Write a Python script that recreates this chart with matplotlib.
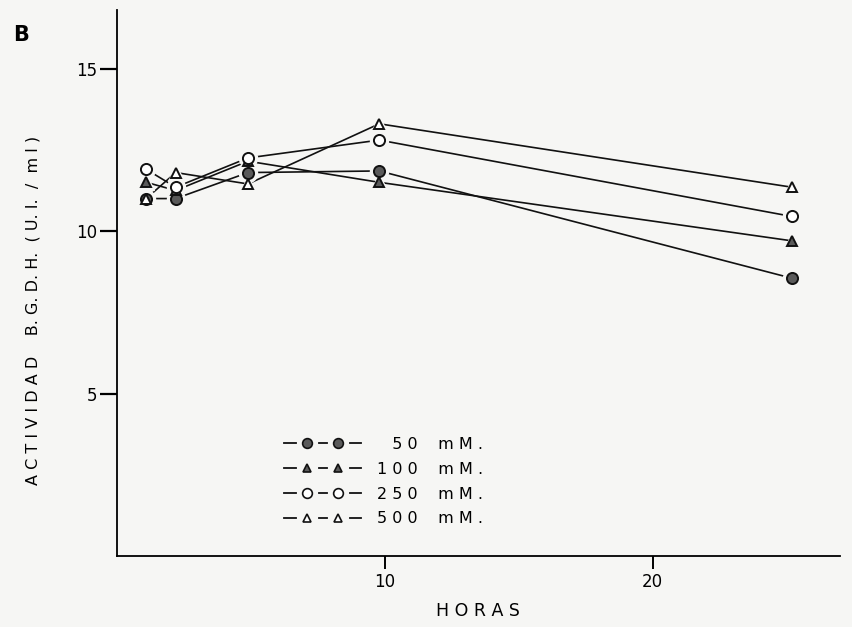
import numpy as np
import matplotlib
matplotlib.use('Agg')
import matplotlib.pyplot as plt
from matplotlib.lines import Line2D
from matplotlib.legend_handler import HandlerLine2D

# values
horas = [1.1, 2.2, 4.9, 9.8, 25.2]
c50 = [11.0, 11.0, 11.8, 11.85, 8.55]
c100 = [11.5, 11.25, 12.15, 11.5, 9.7]
c250 = [11.9, 11.35, 12.25, 12.8, 10.45]
c500 = [11.0, 11.8, 11.45, 13.3, 11.35]
labels = ['\u2007 5 0    m M .', '1 0 0    m M .', '2 5 0    m M .', '5 0 0    m M .']

bg = '#f6f6f4'
grey = '#5a5a5a'


class DashMarkHandler(HandlerLine2D):
    # legend key drawn as  - o - o -  (three dashes, two markers)
    def create_artists(self, legend, orig_handle, xdescent, ydescent,
                       width, height, fontsize, trans):
        x0, x1 = -xdescent, width - xdescent
        w = x1 - x0
        y = (height - ydescent) / 2
        xm = [x0 + 0.3 * w, x0 + 0.7 * w]
        g = 0.15 * w
        arts = []
        for a, b in [(x0, xm[0] - g), (xm[0] + g, xm[1] - g), (xm[1] + g, x1)]:
            seg = Line2D([a, b], [y, y])
            self.update_prop(seg, orig_handle, legend)
            seg.set_marker('None')
            seg.set_linestyle('-')
            seg.set_transform(trans)
            arts.append(seg)
        mk = Line2D(xm, [y, y])
        self.update_prop(mk, orig_handle, legend)
        mk.set_linestyle('None')
        mk.set_transform(trans)
        arts.append(mk)
        return arts


fig = plt.figure(figsize=(8.52, 6.27), dpi=100, facecolor=bg)
ax = fig.add_axes([0.137, 0.113, 0.849, 0.871], facecolor=bg)

series = [
    (c50, 'o', grey, 8),
    (c100, '^', grey, 7),
    (c250, 'o', 'white', 8),
    (c500, '^', 'white', 7),
]

# lines first, then a halo so lines stop short of the markers
for vals, m, fc, ms in series:
    ax.plot(horas, vals, '-', color='#111111', lw=1.2, zorder=1)
for vals, m, fc, ms in series:
    ax.plot(horas, vals, linestyle='none', marker=m, ms=ms + 5,
            mfc=bg, mec=bg, zorder=2)
for vals, m, fc, ms in series:
    ax.plot(horas, vals, linestyle='none', marker=m, ms=ms,
            mfc=fc, mec='#111111', mew=1.4, zorder=3)

ax.set_xlim(0, 27)
ax.set_ylim(0, 16.8)
ax.spines['top'].set_visible(False)
ax.spines['right'].set_visible(False)
ax.spines['left'].set_linewidth(1.3)
ax.spines['bottom'].set_linewidth(1.3)
ax.set_xticks([10, 20])
ax.set_yticks([5, 10, 15])
ax.tick_params(axis='y', direction='out', length=12, width=1.6, labelsize=12, pad=2)
ax.tick_params(axis='x', direction='out', length=9, width=1.4, labelsize=12, pad=3)

ax.set_xlabel('H O R A S', fontsize=12.5, labelpad=8)
ax.set_ylabel('A C T I V I D A D    B. G. D. H.  ( U. I.  /  m l )', fontsize=11.5)
ax.yaxis.set_label_coords(-0.105, 0.45)
fig.text(0.015, 0.935, 'B', fontsize=15, fontweight='bold')

handles = [Line2D([0], [0], color='#111111', lw=1.3,
                  marker=m, ms=ms - 1, mfc=fc, mec='#111111', mew=1.2)
           for vals, m, fc, ms in series]
ax.legend(handles, labels, loc='upper left', bbox_to_anchor=(0.212, 0.245),
          frameon=False, handlelength=4.8, handletextpad=1.0,
          labelspacing=0.62, fontsize=11.5,
          handler_map={Line2D: DashMarkHandler()})

fig.savefig('out.png', dpi=100, facecolor=bg)
